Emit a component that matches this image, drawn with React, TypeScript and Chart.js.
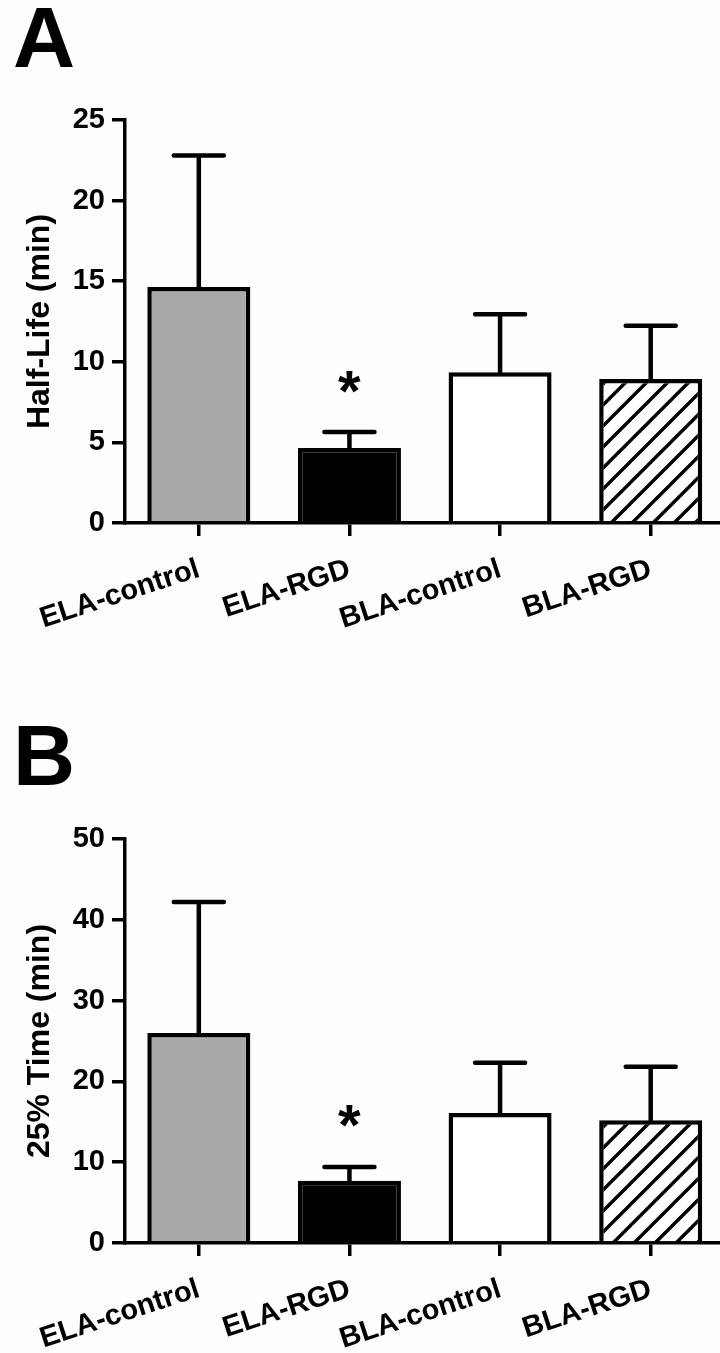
import React, { useEffect, useRef } from 'react';
import { Chart, registerables } from 'chart.js';

Chart.register(...registerables);

// ---------- data ----------
const categories = ['ELA-control', 'ELA-RGD', 'BLA-control', 'BLA-RGD'];

const halfLifeMeans = [14.64, 4.65, 9.35, 8.93];
const halfLifeErrors = [8.16, 1.0, 3.6, 3.3];
const halfLifeTicks = [0, 5, 10, 15, 20, 25];
const halfLifeStar = 8.75; // y value where the "*" sits (above ELA-RGD)

const time25Means = [26.0, 7.7, 16.1, 15.2];
const time25Errors = [16.2, 1.7, 6.2, 6.6];
const time25Ticks = [0, 10, 20, 30, 40, 50];
const time25Star = 15.7;

const starIndex = 1;

// ---------- styles ----------
const FONT = '"Liberation Sans", Arial, Helvetica, sans-serif';
const GRAY = '#a9a9a9';
const BG = '#fdfdfd';

function makeHatch(): CanvasPattern | string {
  const s = 21;
  const c = document.createElement('canvas');
  c.width = s;
  c.height = s;
  const g = c.getContext('2d');
  if (!g) return '#fff';
  g.fillStyle = '#ffffff';
  g.fillRect(0, 0, s, s);
  g.strokeStyle = '#000';
  g.lineWidth = 3.4;
  g.beginPath();
  for (const o of [-s, 0, s]) {
    g.moveTo(o - 1, s + 1);
    g.lineTo(o + s + 1, -1);
  }
  g.stroke();
  return g.createPattern(c, 'repeat') || '#fff';
}

function makeOverlay(means: number[], errors: number[], starIdx: number, starY: number) {
  return {
    id: 'overlay',
    afterDatasetsDraw(chart: any) {
      const { ctx } = chart;
      const x = chart.scales.x;
      const y = chart.scales.y;
      ctx.save();
      ctx.strokeStyle = '#000';
      ctx.lineWidth = 4.5;
      ctx.lineCap = 'round';
      means.forEach((m, i) => {
        const px = x.getPixelForValue(i);
        const y0 = y.getPixelForValue(m);
        const y1 = y.getPixelForValue(m + errors[i]);
        ctx.beginPath();
        ctx.moveTo(px, y0);
        ctx.lineTo(px, y1);
        ctx.moveTo(px - 25, y1);
        ctx.lineTo(px + 25, y1);
        ctx.stroke();
      });
      ctx.fillStyle = '#000';
      ctx.textAlign = 'left';
      ctx.textBaseline = 'alphabetic';
      ctx.font = `bold 58px ${FONT}`;
      const mt = ctx.measureText('*');
      const sx = x.getPixelForValue(starIdx);
      const sy = y.getPixelForValue(starY);
      const dx = sx - (mt.actualBoundingBoxRight - mt.actualBoundingBoxLeft) / 2;
      const dy = sy + (mt.actualBoundingBoxAscent - mt.actualBoundingBoxDescent) / 2;
      ctx.fillText('*', dx, dy);
      ctx.restore();
    },
  };
}

interface PanelCfg {
  letter: string;
  yTitle: string;
  means: number[];
  errors: number[];
  ticks: number[];
  starY: number;
  padTop: number;
  titleGap: number;
  xHeight: number;
}

function buildChart(canvas: HTMLCanvasElement, cfg: PanelCfg) {
  const hatch = makeHatch();
  const tickFont = { family: FONT, size: 29, weight: 'bold' as const };
  return new Chart(canvas, {
    type: 'bar',
    data: {
      datasets: [
        {
          data: cfg.means.map((v, i) => ({ x: i, y: v })),
          backgroundColor: [GRAY, '#000000', '#ffffff', hatch as any],
          borderColor: '#000',
          borderWidth: 4.5,
          barPercentage: 0.855,
          categoryPercentage: 0.8,
        },
      ],
    },
    options: {
      responsive: false,
      maintainAspectRatio: false,
      animation: false,
      events: [],
      layout: { padding: { left: 13, top: cfg.padTop, right: 0, bottom: 0 } },
      plugins: {
        legend: { display: false },
        tooltip: { enabled: false },
        title: {
          display: true,
          text: cfg.letter,
          align: 'start',
          color: '#000',
          font: { family: FONT, size: 86, weight: 'bold', lineHeight: 1 },
          padding: { top: 0, bottom: cfg.titleGap },
        },
      },
      scales: {
        x: {
          type: 'linear',
          min: -0.49,
          max: 3.46,
          offset: false,
          afterBuildTicks: (s: any) => {
            s.ticks = categories.map((_, i) => ({ value: i }));
          },
          afterFit: (s: any) => {
            s.height = cfg.xHeight;
          },
          ticks: {
            autoSkip: false,
            minRotation: 18,
            maxRotation: 18,
            padding: 16,
            color: '#000',
            font: { family: FONT, size: 29, weight: 'bold' },
            callback: (v: any) => categories[Math.round(Number(v))] ?? '',
          },
          grid: {
            display: true,
            offset: false,
            drawOnChartArea: false,
            drawTicks: true,
            tickLength: 13,
            tickWidth: 3.5,
            lineWidth: 3.5,
            color: '#000',
          },
          border: { display: true, color: '#000', width: 3.5 },
        },
        y: {
          type: 'linear',
          min: cfg.ticks[0],
          max: cfg.ticks[cfg.ticks.length - 1],
          afterBuildTicks: (s: any) => {
            s.ticks = cfg.ticks.map((v) => ({ value: v }));
          },
          afterFit: (s: any) => {
            s.width = 112;
          },
          ticks: { padding: 7, color: '#000', font: tickFont },
          grid: {
            display: true,
            drawOnChartArea: false,
            drawTicks: true,
            tickLength: 13,
            tickWidth: 3.5,
            lineWidth: 3.5,
            color: '#000',
          },
          border: { display: true, color: '#000', width: 3.5 },
          title: {
            display: true,
            text: cfg.yTitle,
            color: '#000',
            font: { family: FONT, size: 32, weight: 'bold', lineHeight: 1.2 },
            padding: { top: 8, bottom: 0 },
          },
        },
      },
    } as any,
    plugins: [makeOverlay(cfg.means, cfg.errors, starIndex, cfg.starY)],
  });
}

export default function App() {
  const refA = useRef<HTMLCanvasElement | null>(null);
  const refB = useRef<HTMLCanvasElement | null>(null);

  useEffect(() => {
    const charts: Chart[] = [];
    if (refA.current) {
      charts.push(
        buildChart(refA.current, {
          letter: 'A',
          yTitle: 'Half-Life (min)',
          means: halfLifeMeans,
          errors: halfLifeErrors,
          ticks: halfLifeTicks,
          starY: halfLifeStar,
          padTop: 0,
          titleGap: 34,
          xHeight: 680 - 523,
        })
      );
    }
    if (refB.current) {
      charts.push(
        buildChart(refB.current, {
          letter: 'B',
          yTitle: '25% Time (min)',
          means: time25Means,
          errors: time25Errors,
          ticks: time25Ticks,
          starY: time25Star,
          padTop: 38,
          titleGap: 35,
          xHeight: 673 - 563,
        })
      );
    }
    return () => charts.forEach((c) => c.destroy());
  }, []);

  return (
    <div
      style={{
        position: 'absolute',
        left: 0,
        top: 0,
        width: 720,
        height: 1353,
        background: BG,
        overflow: 'hidden',
      }}
    >
      <canvas
        ref={refA}
        width={720}
        height={680}
        style={{ position: 'absolute', left: 0, top: 0, width: 720, height: 680 }}
      />
      <canvas
        ref={refB}
        width={720}
        height={673}
        style={{ position: 'absolute', left: 0, top: 680, width: 720, height: 673 }}
      />
    </div>
  );
}
